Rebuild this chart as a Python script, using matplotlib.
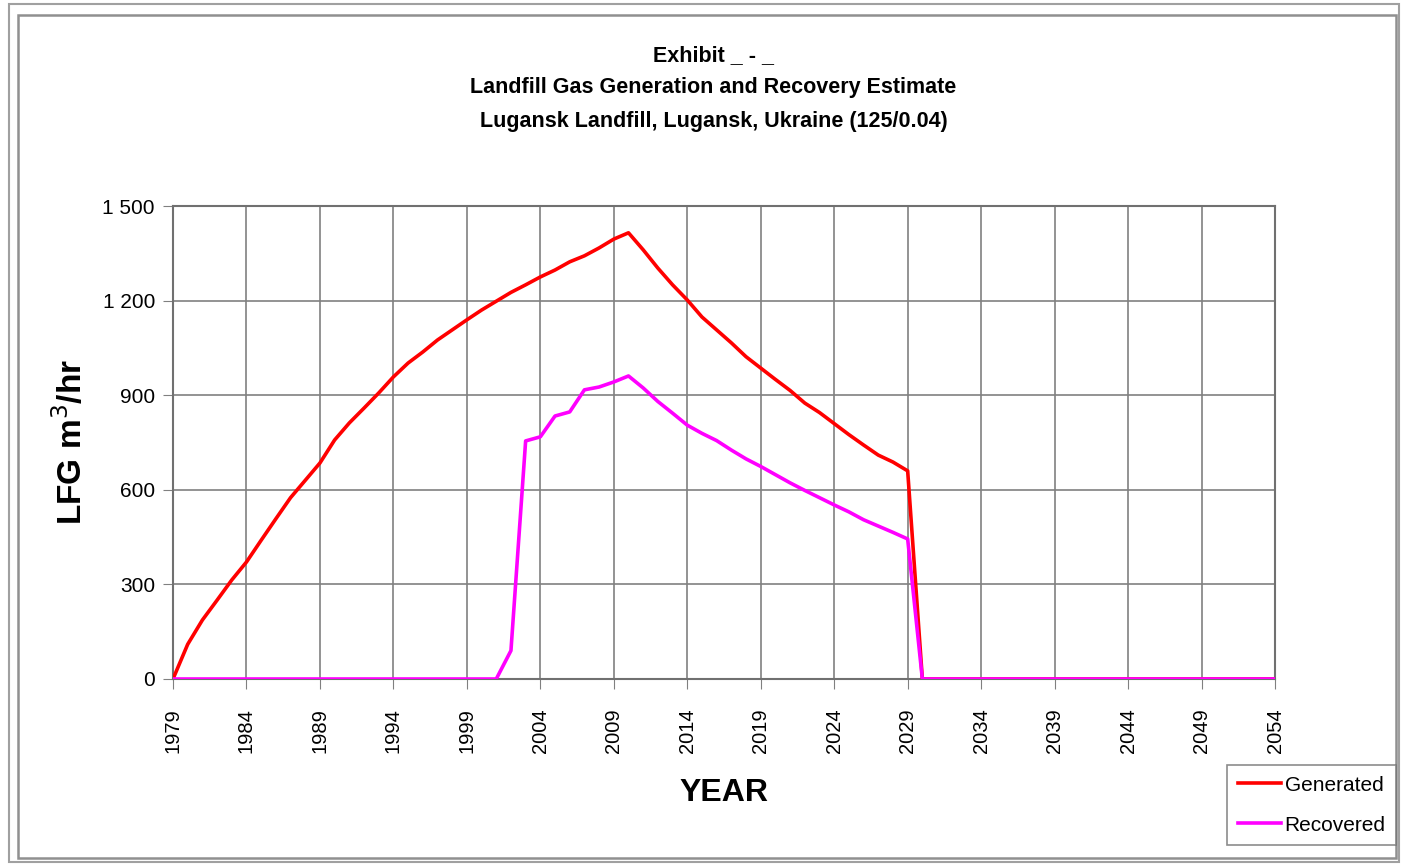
import matplotlib.pyplot as plt
import numpy as np
from matplotlib.patches import Rectangle

plt.rcParams['font.family'] = ['Liberation Sans', 'DejaVu Sans']

years = list(range(1979, 2055))

generated = [0, 110, 187, 250, 314, 371, 440, 508, 575, 630,
             685, 758, 812, 859, 907, 958, 1002, 1037, 1075, 1107,
             1139, 1170, 1198, 1226, 1250, 1275, 1297, 1323, 1342, 1367,
             1395, 1415, 1361, 1303, 1250, 1202, 1148, 1107, 1066, 1022,
             986, 950, 915, 875, 845, 810, 775, 742, 710, 688,
             660, 0]
generated += [0] * (len(years) - len(generated))

recovered = [0] * 23 + [90, 755, 768, 834, 847, 917, 926, 942, 961,
                        923, 880, 843, 805, 779, 756, 726, 698, 674,
                        648, 622, 598, 575, 552, 530, 505, 485, 465,
                        444, 0]
recovered += [0] * (len(years) - len(recovered))

ytick_vals = [0, 300, 600, 900, 1200, 1500]
ytick_labels = ['0', '300', '600', '900', '1 200', '1 500']
xtick_vals = list(range(1979, 2055, 5))

fig = plt.figure(figsize=(14.02, 8.65), dpi=100)
ax = fig.add_axes([173 / 1402, 1 - 679 / 865, 1102 / 1402, 473 / 865])

ax.plot(years, generated, color='#ff0000', lw=2.6, label='Generated',
        solid_joinstyle='round', zorder=3)
ax.plot(years, recovered, color='#ff00ff', lw=2.6, label='Recovered',
        solid_joinstyle='round', zorder=3)

ax.set_xlim(1979, 2054)
ax.set_ylim(0, 1500)
ax.set_xticks(xtick_vals)
ax.set_xticklabels([str(y) for y in xtick_vals], rotation=90, fontsize=14.5)
ax.set_yticks(ytick_vals)
ax.set_yticklabels(ytick_labels, fontsize=15)
ax.tick_params(direction='out', length=7, color='#808080', pad=6)
ax.tick_params(axis='x', pad=14)
ax.grid(True, color='#808080', lw=1.2)
for s in ax.spines.values():
    s.set_color('#707070')
    s.set_linewidth(1.5)

ax.set_xlabel('YEAR', fontsize=23, fontweight='bold', labelpad=18)
ax.set_ylabel('LFG m$^3$/hr', fontsize=24, fontweight='bold', labelpad=10)

fig.text(0.509, 1 - 56 / 865, 'Exhibit _ - _', ha='center', va='center',
         fontsize=15.5, fontweight='bold')
fig.text(0.509, 1 - 88 / 865, 'Landfill Gas Generation and Recovery Estimate',
         ha='center', va='center', fontsize=15.5, fontweight='bold')
fig.text(0.509, 1 - 121 / 865, 'Lugansk Landfill, Lugansk, Ukraine (125/0.04)',
         ha='center', va='center', fontsize=15.5, fontweight='bold')

leg = fig.legend(loc='lower right', bbox_to_anchor=(1396 / 1402, 1 - 845 / 865),
                 borderaxespad=0, fontsize=15, frameon=True, fancybox=False,
                 handlelength=2.1, handletextpad=0.15, borderpad=0.5,
                 labelspacing=1.0)
leg.get_frame().set_edgecolor('#707070')
leg.get_frame().set_linewidth(1.2)

fig.patches.append(Rectangle((9 / 1402, 1 - 862 / 865), 1390 / 1402, 858 / 865,
                             transform=fig.transFigure, fill=False,
                             edgecolor='#a0a0a0', lw=1.5))
fig.patches.append(Rectangle((18 / 1402, 1 - 858 / 865), 1378 / 1402, 843 / 865,
                             transform=fig.transFigure, fill=False,
                             edgecolor='#909090', lw=1.8))

fig.savefig('out.png', dpi=100)
